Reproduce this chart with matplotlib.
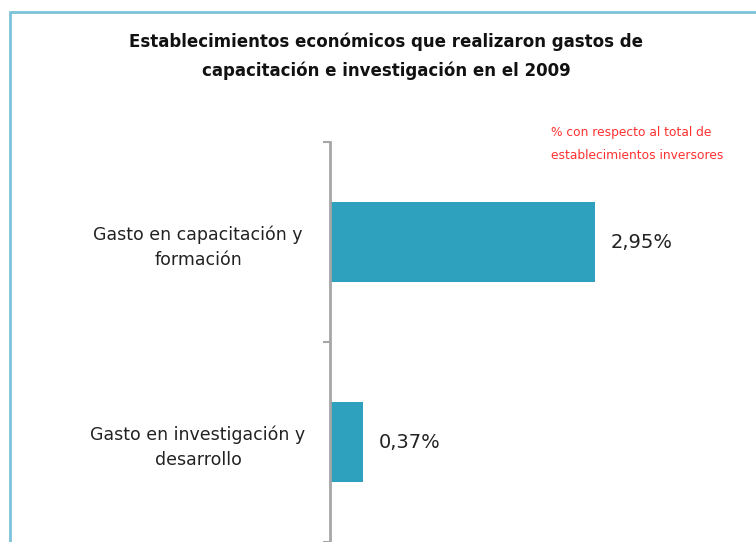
import matplotlib.pyplot as plt
from matplotlib.patches import Rectangle

categories = ['Gasto en capacitación y\nformación', 'Gasto en investigación y\ndesarrollo']
values = [2.95, 0.37]

title = 'Establecimientos económicos que realizaron gastos de\ncapacitación e investigación en el 2009'
note = '% con respecto al total de\nestablecimientos inversores'

W, H = 756, 542
fig = plt.figure(figsize=(W / 100, H / 100), dpi=100)

# light blue frame, cut by the image edges on the right and bottom
fig.patches.append(Rectangle((10 / W, -0.1), 1.2, 1 - 12 / H + 0.1, transform=fig.transFigure,
                             fill=False, edgecolor='#7cc3d9', linewidth=2))

ax = fig.add_axes([330 / W, 0, 410 / W, 400 / H])
y = list(range(len(categories)))
ax.barh(y, values, height=0.4, color='#2ea1be')
ax.set_ylim(1.5, -0.5)
ax.set_xlim(0, 410 / 89.8)

for i, v in zip(y, values):
    ax.annotate(f"{v:.2f}".replace('.', ',') + '%', (v, i), xytext=(11, 0),
                textcoords='offset points', va='center', ha='left',
                fontsize=14, color='#222222')

ax.set_yticks(y)
ax.set_yticklabels(categories, ha='center', multialignment='center', fontsize=12.5,
                   color='#222222', linespacing=1.45)
ax.tick_params(axis='y', which='major', length=0, pad=95)
ax.set_yticks([-0.5, 0.5, 1.5], minor=True)
ax.tick_params(axis='y', which='minor', length=5, width=1.5, color='#a6a6a6')
ax.set_xticks([])
for s in ['top', 'right', 'bottom']:
    ax.spines[s].set_visible(False)
ax.spines['left'].set_color('#a6a6a6')
ax.spines['left'].set_linewidth(2)

fig.text(386 / W, 1 - 56 / H, title, ha='center', va='center', fontsize=12,
         fontweight='bold', color='#111111', linespacing=1.75)
fig.text(551 / W, 1 - 144 / H, note, ha='left', va='center', fontsize=8.8,
         color='#ff3030', linespacing=2.0)

fig.savefig('out.png', dpi=100)
